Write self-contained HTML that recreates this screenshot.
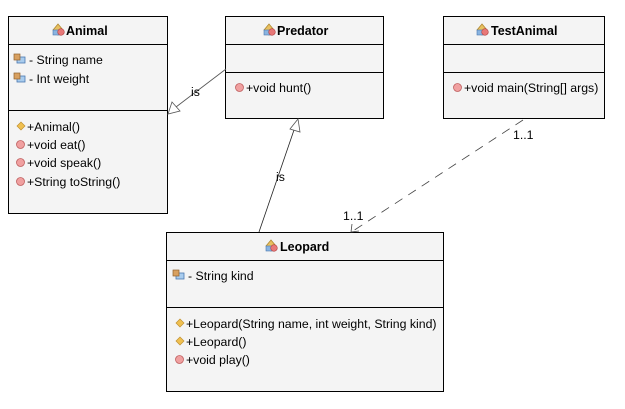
<!DOCTYPE html>
<html><head><meta charset="utf-8"><style>
html,body{margin:0;padding:0;background:#fff;}
svg{display:block;}
text{font-family:"Liberation Sans",sans-serif;font-size:12.3px;fill:#000;}
.t{font-weight:bold;font-size:12.5px;}
</style></head><body>
<svg width="625" height="409" viewBox="0 0 625 409" xmlns="http://www.w3.org/2000/svg">
<defs>
<g id="ci"><path d="M0,6 L5,0 L10,6 L5,11Z" fill="#e8c060" stroke="#b08830" stroke-width="0.8"/><rect x="0" y="6" width="8" height="5" fill="#8ab4e0" stroke="#4a78b0" stroke-width="0.6"/><circle cx="8" cy="8" r="3.3" fill="#e87878" stroke="#b04040" stroke-width="0.6"/></g>
<g id="fi"><rect x="3" y="3" width="8" height="6" fill="#a8ccee" stroke="#4a78b0" stroke-width="0.8"/><rect x="0" y="0" width="6" height="6" fill="#d8a060" stroke="#906030" stroke-width="0.7"/></g>
<g id="mi"><circle cx="4.5" cy="4.5" r="4" fill="#f0a0a0" stroke="#c06060" stroke-width="0.8"/></g>
<g id="ki"><path d="M4,0 L8,4 L4,8 L0,4Z" fill="#f0c050" stroke="#c09030" stroke-width="0.7"/></g>
</defs>
<rect x="8.5" y="16.5" width="159" height="197" fill="#f4f4f4" stroke="#000"/>
<line x1="8" y1="44.5" x2="168" y2="44.5" stroke="#000"/>
<line x1="8" y1="110.5" x2="168" y2="110.5" stroke="#000"/>
<use href="#ci" x="53" y="24"/><text class="t" x="66" y="35">Animal</text>
<use href="#fi" x="14" y="54"/><text x="29" y="64">- String name</text>
<use href="#fi" x="14" y="73"/><text x="29" y="83">- Int weight</text>
<use href="#ki" x="17" y="122"/><text x="27" y="131">+Animal()</text>
<use href="#mi" x="16" y="140"/><text x="27" y="149">+void eat()</text>
<use href="#mi" x="16" y="158"/><text x="27" y="167">+void speak()</text>
<use href="#mi" x="16" y="177"/><text x="27" y="186">+String toString()</text>
<rect x="225.5" y="16.5" width="158" height="102" fill="#f4f4f4" stroke="#000"/>
<line x1="225" y1="44.5" x2="384" y2="44.5" stroke="#000"/>
<line x1="225" y1="72.5" x2="384" y2="72.5" stroke="#000"/>
<use href="#ci" x="264" y="24"/><text class="t" x="277" y="35">Predator</text>
<use href="#mi" x="235" y="83"/><text x="246" y="92">+void hunt()</text>
<rect x="443.5" y="16.5" width="161" height="102" fill="#f4f4f4" stroke="#000"/>
<line x1="443" y1="44.5" x2="605" y2="44.5" stroke="#000"/>
<line x1="443" y1="72.5" x2="605" y2="72.5" stroke="#000"/>
<use href="#ci" x="477" y="24"/><text class="t" x="491" y="35">TestAnimal</text>
<use href="#mi" x="453" y="83"/><text x="464" y="92">+void main(String[] args)</text>
<rect x="166.5" y="232.5" width="277" height="159" fill="#f4f4f4" stroke="#000"/>
<line x1="166" y1="260.5" x2="444" y2="260.5" stroke="#000"/>
<line x1="166" y1="307.5" x2="444" y2="307.5" stroke="#000"/>
<use href="#ci" x="266" y="240"/><text class="t" x="280" y="251">Leopard</text>
<use href="#fi" x="173" y="270"/><text x="188" y="280">- String kind</text>
<use href="#ki" x="176" y="319"/><text x="186" y="328">+Leopard(String name, int weight, String kind)</text>
<use href="#ki" x="176" y="337"/><text x="186" y="346">+Leopard()</text>
<use href="#mi" x="175" y="355"/><text x="186" y="364">+void play()</text>
<line x1="226" y1="69" x2="176" y2="107" stroke="#555" stroke-width="0.8"/>
<polygon points="168,114 172,102 180,111" fill="#fff" stroke="#555" stroke-width="0.8"/>
<text x="191" y="96">is</text>
<line x1="259" y1="232" x2="294" y2="130" stroke="#222" stroke-width="0.8"/>
<polygon points="298,119 300,132 290,129" fill="#fff" stroke="#555" stroke-width="0.8"/>
<text x="276" y="181">is</text>
<line x1="523" y1="120" x2="353" y2="231" stroke="#444" stroke-width="0.8" stroke-dasharray="9,7"/>
<polyline points="352,224 351,232 359,231" fill="none" stroke="#444" stroke-width="0.8"/>
<text x="513" y="139">1..1</text>
<text x="343" y="220">1..1</text>
</svg>
</body></html>
